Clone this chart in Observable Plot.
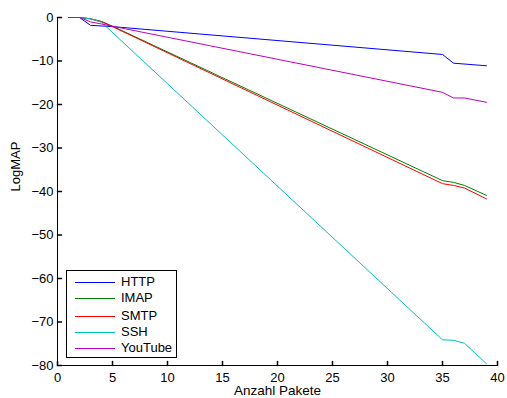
<!DOCTYPE html>
<html><head><meta charset="utf-8">
<script src="https://cdn.jsdelivr.net/npm/d3@7"></script>
<script src="https://cdn.jsdelivr.net/npm/@observablehq/plot@0.6"></script>
<style>
body{margin:0;background:#fff;font-family:"Liberation Sans",Arial,sans-serif;}
#wrap{position:relative;width:507px;height:398px;}
#legend{position:absolute;left:66px;top:270px;width:109px;height:86px;border:1px solid #000;background:#fff;font-size:13px;color:#000;}
.item{position:absolute;left:0;width:109px;height:16px;line-height:16px;}
.swatch{position:absolute;left:8px;top:8px;width:40px;height:1px;}
.lab{position:absolute;left:54px;top:0;}
</style>
</head><body>
<div id="wrap"><div id="chart"></div><div id="legend"></div></div>
<script>
const seriesNames = ["HTTP", "IMAP", "SMTP", "SSH", "YouTube"];
const seriesColors = ["#0000ff", "#008000", "#ff0000", "#00bfbf", "#bf00bf"];
const xTicks = [0, 5, 10, 15, 20, 25, 30, 35, 40];
const yTicks = [-80, -70, -60, -50, -40, -30, -20, -10, 0];

const httpX = [1, 2, 3, 5, 35, 36, 39];
const httpY = [0, 0, -1.8, -2.1, -8.5, -10.5, -11.1];
const imapX = [1, 2, 3, 4, 5, 35, 36, 37, 39];
const imapY = [0, 0, -0.3, -0.9, -2.0, -37.5, -37.9, -38.6, -40.9];
const smtpX = [1, 2, 3, 4, 5, 35, 36, 37, 39];
const smtpY = [0, 0, -0.3, -1.0, -2.1, -38.2, -38.6, -39.2, -41.7];
const sshX = [1, 2, 3, 4, 35, 36, 37, 39];
const sshY = [0, 0, -0.3, -1.1, -74.1, -74.2, -74.9, -79.6];
const ytX = [1, 2, 3, 4, 35, 36, 37, 39];
const ytY = [0, 0, -1.0, -1.5, -17.2, -18.5, -18.5, -19.5];

const xs = [httpX, imapX, smtpX, sshX, ytX];
const ys = [httpY, imapY, smtpY, sshY, ytY];
const data = seriesNames.flatMap((name, i) => xs[i].map((x, j) => ({series: name, x, y: ys[i][j]})));

const tickShape = {draw(context, l) { context.moveTo(0, 0); context.lineTo(0, -l); }};

const chart = Plot.plot({
  width: 507,
  height: 398,
  marginLeft: 57,
  marginRight: 10,
  marginTop: 17,
  marginBottom: 33,
  style: {fontFamily: "Liberation Sans, Arial, sans-serif", fontSize: "13px", color: "#000", background: "#fff"},
  x: {domain: [0, 40]},
  y: {domain: [-80, 0]},
  color: {domain: seriesNames, range: seriesColors},
  marks: [
    Plot.line(data, {x: "x", y: "y", z: "series", stroke: "series", strokeWidth: 1}),
    Plot.ruleX([0], {stroke: "#000"}),
    Plot.ruleY([-80], {stroke: "#000"}),
    Plot.vector(xTicks, {x: d => d, frameAnchor: "bottom", length: 4, anchor: "start", shape: tickShape, stroke: "#000"}),
    Plot.vector(yTicks, {y: d => d, frameAnchor: "left", length: 4, rotate: 90, anchor: "start", shape: tickShape, stroke: "#000"}),
    Plot.axisX({ticks: xTicks, tickSize: 0, tickPadding: 7, tickFormat: d3.format("d"), label: null, fill: "#000"}),
    Plot.axisY({ticks: yTicks, tickSize: 0, tickPadding: 4, tickFormat: d3.format("d"), label: null, fill: "#000"}),
    Plot.text(["Anzahl Pakete"], {frameAnchor: "bottom", dy: 25.5, lineAnchor: "middle", fontSize: 13.5, fill: "#000"}),
    Plot.text(["LogMAP"], {frameAnchor: "left", dx: -42, rotate: -90, lineAnchor: "middle", fontSize: 13, fill: "#000"})
  ]
});
document.getElementById("chart").appendChild(chart);

const legend = document.getElementById("legend");
seriesNames.forEach((name, i) => {
  const item = document.createElement("div");
  item.className = "item";
  item.style.top = (2 * Math.floor((3 + i * 16.5) / 2) + 1) + "px";
  const sw = document.createElement("div");
  sw.className = "swatch";
  sw.style.background = seriesColors[i];
  const label = document.createElement("span");
  label.className = "lab";
  label.textContent = name;
  item.appendChild(sw);
  item.appendChild(label);
  legend.appendChild(item);
});
</script>
</body></html>
